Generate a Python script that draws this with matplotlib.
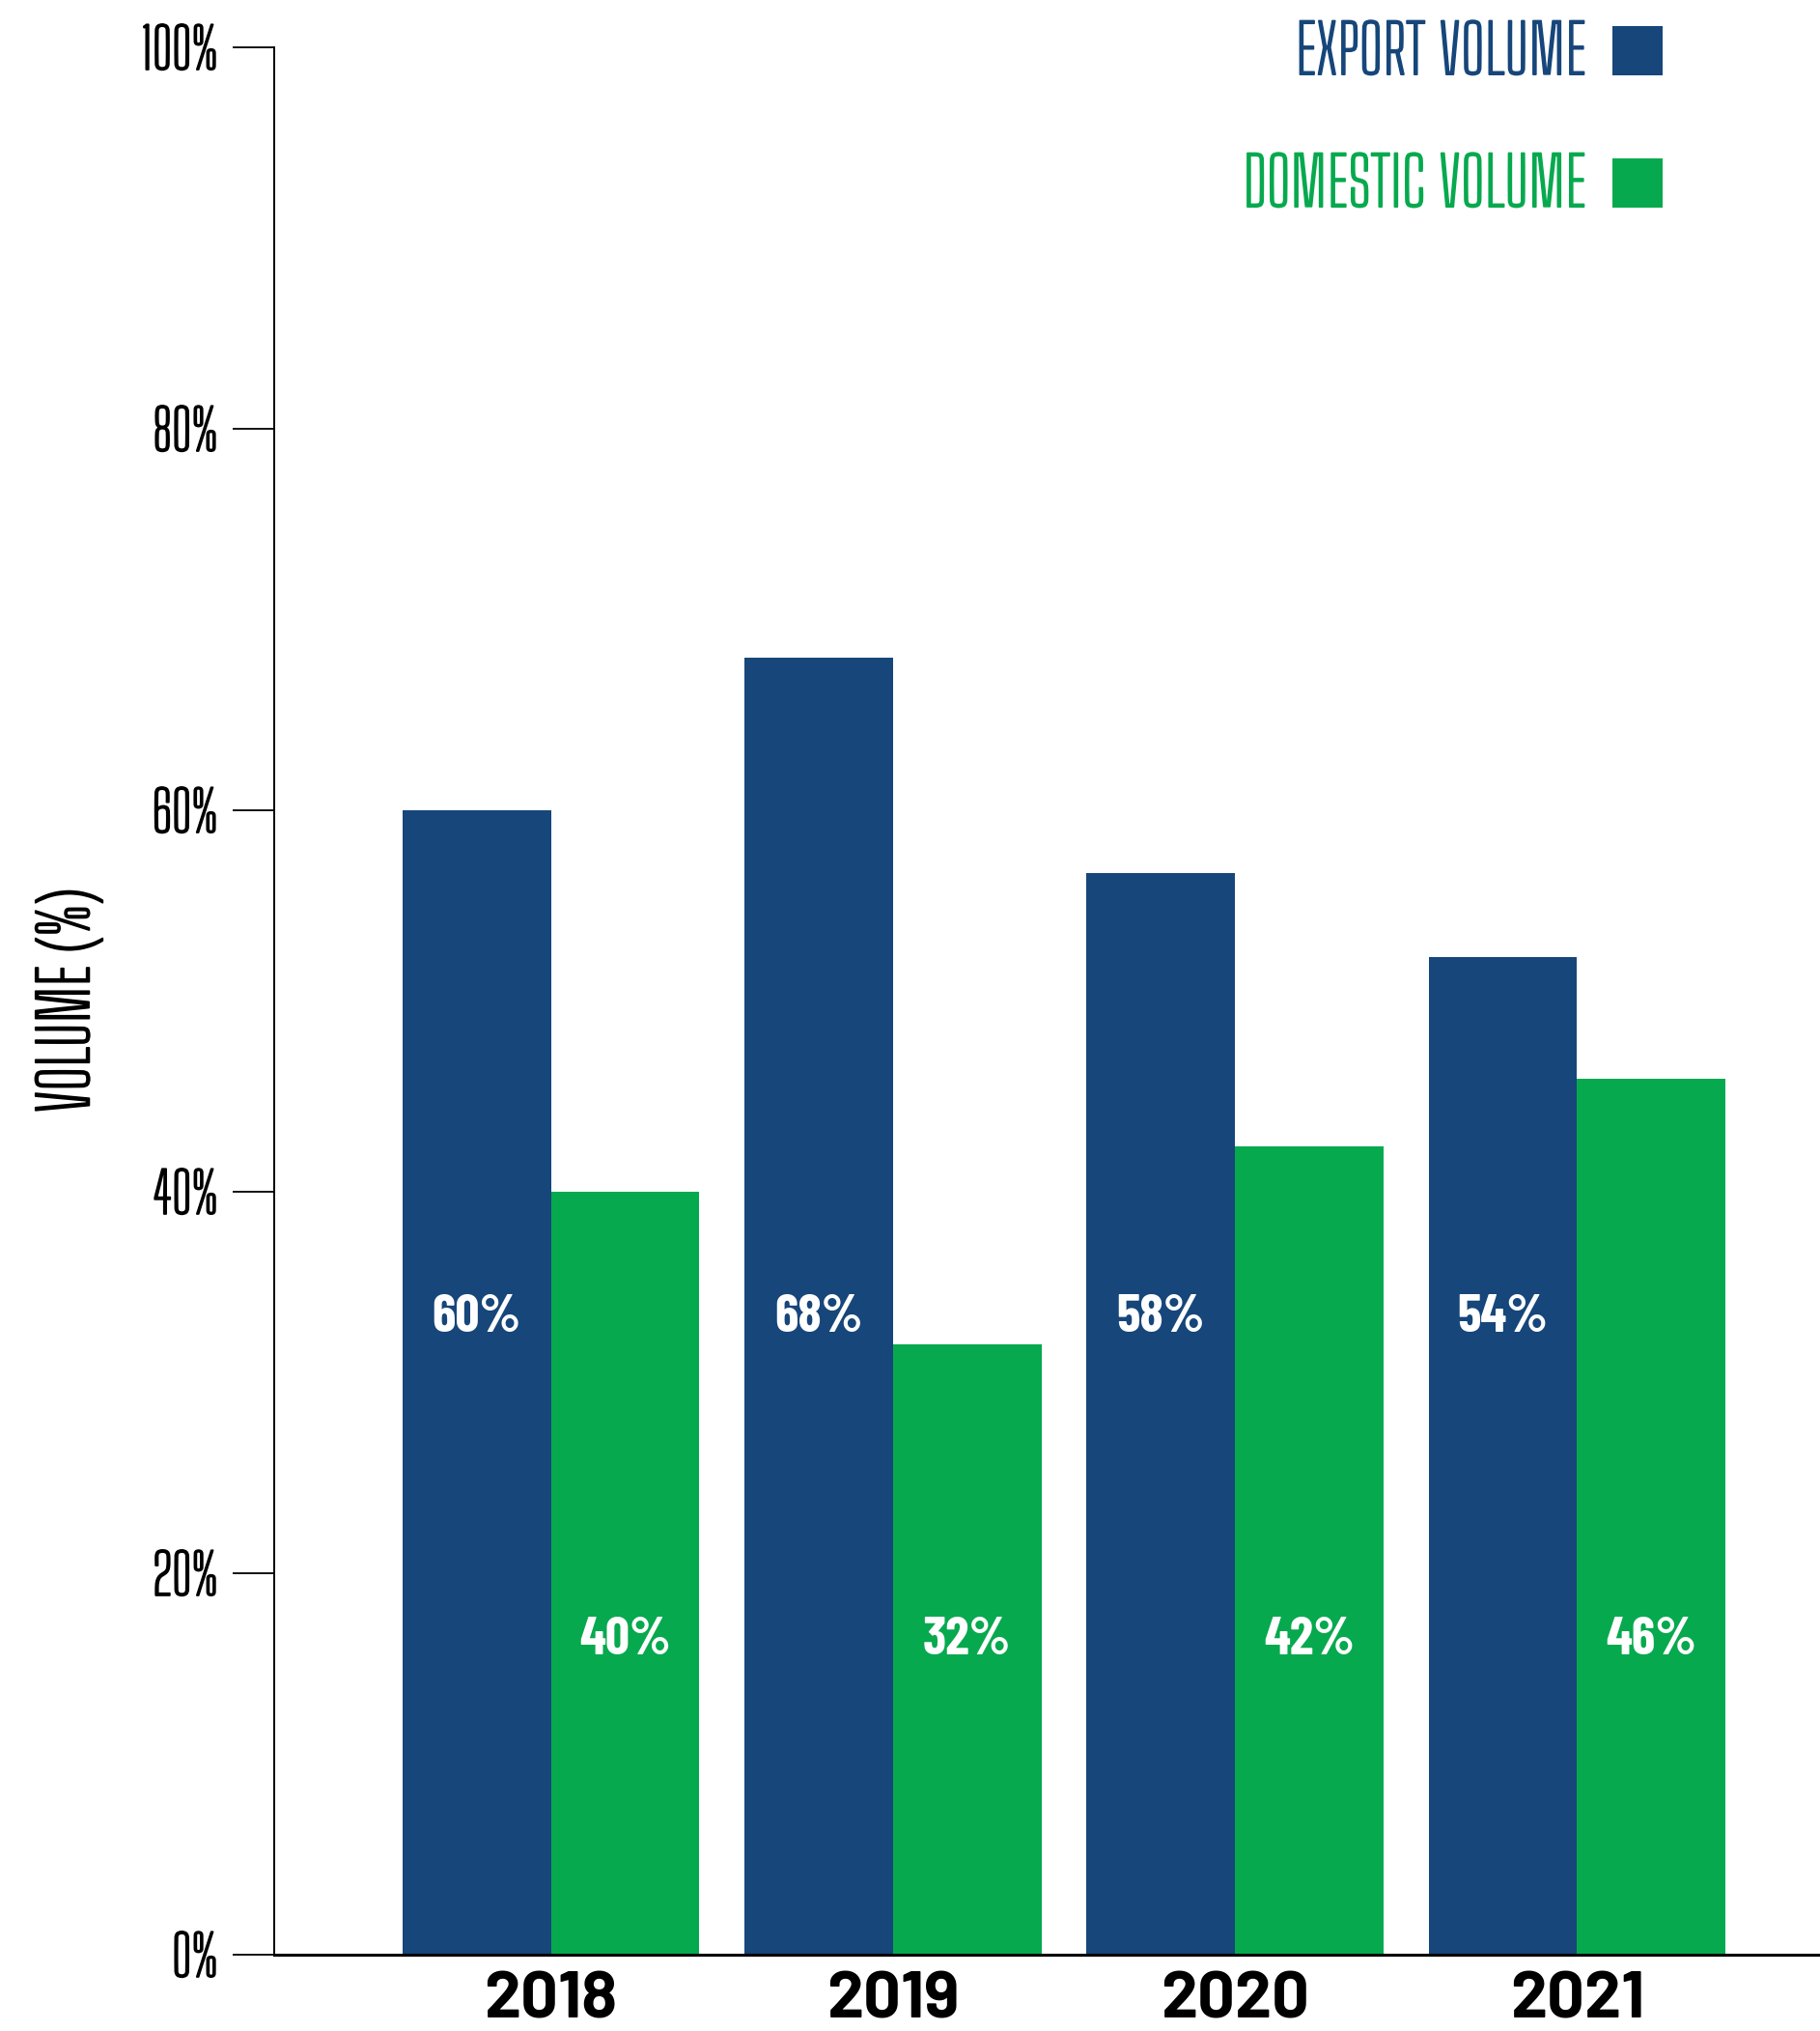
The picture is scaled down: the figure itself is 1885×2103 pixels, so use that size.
import numpy as np
import matplotlib
matplotlib.use("Agg")
import matplotlib.pyplot as plt
import matplotlib.patheffects as pe

# data
years = ["2018", "2019", "2020", "2021"]
export_volume = [60.0, 68.0, 56.7, 52.3]
domestic_volume = [40.0, 32.0, 42.4, 45.9]
export_labels = ["60%", "68%", "58%", "54%"]
domestic_labels = ["40%", "32%", "42%", "46%"]
yticks = [0, 20, 40, 60, 80, 100]

navy = "#16467A"
green = "#07A94E"
thin = ["Big Shoulders Text", "DejaVu Sans"]
bold_year = ["Barlow", "DejaVu Sans"]
bold_bar = ["Barlow Condensed", "DejaVu Sans"]


def thicken(t, color):
    # the condensed face is very light, give it a little more weight
    t.set_path_effects([pe.withStroke(linewidth=1.3, foreground=color)])


fig = plt.figure(figsize=(18.85, 21.03), dpi=100)
ax = fig.add_axes([0.1507, 0.0376, 0.8493, 0.9391])

x = np.arange(len(years))
w = 0.434
b1 = ax.bar(x - w / 2, export_volume, w, color=navy, label="EXPORT VOLUME")
b2 = ax.bar(x + w / 2, domestic_volume, w, color=green, label="DOMESTIC VOLUME")

# value labels inside the bars
for xi, lab in zip(x - w / 2, export_labels):
    ax.text(xi, 33.4, lab, ha="center", va="center", color="white",
            fontsize=40, family=bold_bar, weight="bold")
for xi, lab in zip(x + w / 2, domestic_labels):
    ax.text(xi, 16.5, lab, ha="center", va="center", color="white",
            fontsize=40, family=bold_bar, weight="bold")

ax.set_xlim(-0.809, 3.71)
ax.set_ylim(0, 100)
ax.set_yticks(yticks)
ax.set_yticklabels([f"{t}%" for t in yticks], family=thin, fontsize=42)
ax.set_xticks(x)
ax.set_xticklabels(years, family=bold_year, weight="bold", fontsize=49)
ax.tick_params(axis="y", direction="out", length=31, width=1.3, pad=11)
ax.tick_params(axis="x", length=0, pad=13)
for t in ax.get_yticklabels():
    thicken(t, "black")

for s in ["top", "right"]:
    ax.spines[s].set_visible(False)
ax.spines["left"].set_linewidth(1.4)
ax.spines["bottom"].set_linewidth(2.2)

ax.set_ylabel("VOLUME (%)", family=thin, fontsize=50)
ax.yaxis.set_label_coords(-0.111, 0.5)
thicken(ax.yaxis.label, "black")

leg = fig.legend(handles=[b1, b2], loc="upper right", bbox_to_anchor=(0.9135, 0.9895),
                 frameon=False, markerfirst=False, prop={"family": thin, "size": 50},
                 labelcolor=[navy, green], handlelength=0.75, handleheight=0.75,
                 handletextpad=0.39, labelspacing=0.98, borderpad=0, borderaxespad=0)
for t, c in zip(leg.get_texts(), [navy, green]):
    thicken(t, c)

fig.savefig("out.png")
